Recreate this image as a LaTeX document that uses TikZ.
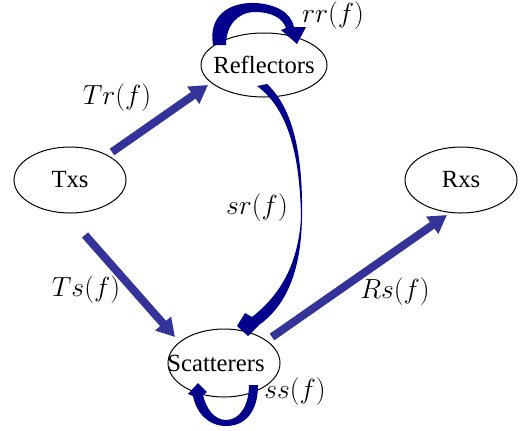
\documentclass[tikz,border=0pt]{standalone}
\usepackage{fontspec}
\setmainfont{Liberation Serif}
\usetikzlibrary{arrows.meta,shapes.geometric,calc}
\definecolor{tblue}{RGB}{51,51,153}
\definecolor{cnavy}{RGB}{0,0,140}
\begin{document}
\begin{tikzpicture}[x=0.75pt,y=-0.75pt,
  ent/.style={draw, ellipse, inner sep=0pt, line width=0.75pt, font=\fontsize{18.5}{22}\selectfont},
  lbl/.style={inner sep=0pt, font=\fontsize{20}{24}\selectfont},
  tarrow/.style={draw=tblue, line width=6pt, -{Triangle[length=13.5pt,width=15pt]}},
  loopfill/.style={fill=cnavy, draw=none}]
\useasboundingbox (0,0) rectangle (523,430);
% entities
\node[ent, minimum width=94.5pt, minimum height=48pt] (ref) at (264,65) {\makebox[0pt]{Reflectors}};
\node[ent, minimum width=84pt, minimum height=49.5pt] (txs) at (70,180) {\makebox[0pt]{Txs}};
\node[ent, minimum width=84pt, minimum height=49.5pt] (rxs) at (461,180) {\makebox[0pt]{Rxs}};
\node[ent, minimum width=84pt, minimum height=51pt] (scat) at (224,363) {\makebox[0pt]{\hspace*{-12pt}Scatterers}};
% straight transfer arrows
\draw[tarrow] ($(txs)+(42,-28)$) -- ($(ref)+(-56,20)$);
\draw[tarrow] ($(txs)+(15,55)$) -- ($(scat)+(-49,-26)$);
\draw[tarrow] ($(scat)+(48,-26)$) -- ($(rxs)+(-14,35)$);
% self loop on reflectors
\begin{scope}[shift={(ref.center)}]
\fill[loopfill] (-51,-20) .. controls (-56,-50) and (-34,-63) .. (-9,-62)
  .. controls (11,-61) and (27,-53) .. (30,-38) -- (42,-38) -- (33,-21) -- (17,-35) -- (22,-37)
  .. controls (18,-48) and (6,-53) .. (-9,-53)
  .. controls (-26,-53) and (-38,-40) .. (-38,-20) -- cycle;
% reflectors to scatterers
\fill[loopfill] (3,19) .. controls (31,45) and (39,95) .. (38,153)
  .. controls (37,205) and (23,240) .. (-5,260) -- (-16,271) -- (-27,261) -- (-19,248) -- (-12,252)
  .. controls (16,230) and (34,200) .. (37,153)
  .. controls (36,95) and (26,45) .. (-7,21) -- cycle;
\end{scope}
% self loop on scatterers
\begin{scope}[shift={(scat.center)}]
\fill[loopfill] (25,22) -- (34,22) .. controls (34,49) and (21,63) .. (2,63)
  .. controls (-16,63) and (-28,49) .. (-31,33) -- (-36,31) -- (-26,20) -- (-17,29) -- (-21,32)
  .. controls (-18,45) and (-10,57) .. (2,57)
  .. controls (16,57) and (25,42) .. (25,22) -- cycle;
\end{scope}
% labels
\node[lbl] (lrr) at (333,16) {$rr(f)$};
\node[lbl] (ltr) at (117,98) {$Tr(f)$};
\node[lbl] (lsr) at (257,208) {$sr(f)$};
\node[lbl] (lts) at (86,290) {$Ts(f)$};
\node[lbl] (lrs) at (395,292) {$Rs(f)$};
\node[lbl] (lss) at (295,392) {$ss(f)$};
\end{tikzpicture}
\end{document}
